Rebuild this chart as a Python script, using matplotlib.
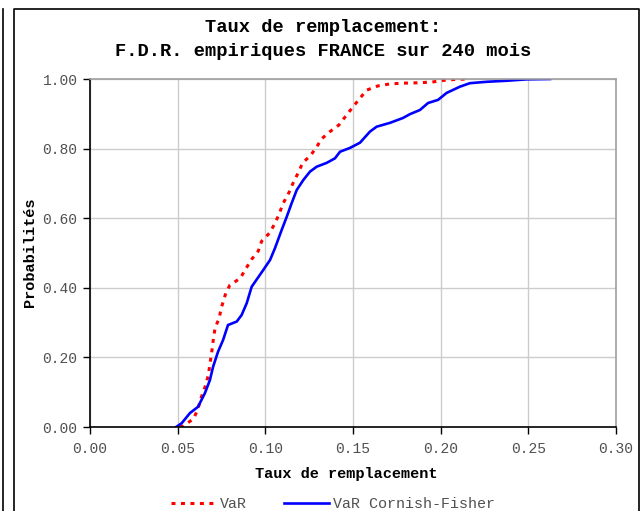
import matplotlib
matplotlib.use("Agg")
import matplotlib.pyplot as plt
from matplotlib.lines import Line2D

# F.D.R. empiriques - taux de remplacement
var_x = [0.0513, 0.0532, 0.0589, 0.0614, 0.0633, 0.0656, 0.0675, 0.0684, 0.0694,
         0.0703, 0.0713, 0.0736, 0.0751, 0.0774, 0.0798, 0.0856, 0.0888, 0.0922,
         0.0960, 0.0979, 0.1023, 0.1055, 0.1080, 0.1102, 0.1137, 0.1160, 0.1188,
         0.1213, 0.1259, 0.1293, 0.1321, 0.1369, 0.1420, 0.1464, 0.1500, 0.1540,
         0.1578, 0.1641, 0.1711, 0.1785, 0.1863, 0.1949, 0.2013, 0.2091, 0.2156]
var_y = [0.000, 0.003, 0.023, 0.049, 0.083, 0.115, 0.149, 0.181, 0.214,
         0.250, 0.284, 0.312, 0.346, 0.384, 0.408, 0.427, 0.454, 0.482,
         0.506, 0.534, 0.557, 0.585, 0.614, 0.643, 0.676, 0.703, 0.731,
         0.759, 0.781, 0.805, 0.828, 0.849, 0.868, 0.897, 0.920, 0.945,
         0.968, 0.980, 0.986, 0.988, 0.989, 0.991, 0.996, 0.999, 1.000]

cf_x = [0.0494, 0.0523, 0.0570, 0.0616, 0.0656, 0.0684, 0.0702, 0.0730, 0.0759,
        0.0787, 0.0837, 0.0865, 0.0894, 0.0922, 0.0988, 0.1027, 0.1055, 0.1093,
        0.1122, 0.1150, 0.1179, 0.1217, 0.1255, 0.1293, 0.1350, 0.1397, 0.1426,
        0.1483, 0.1540, 0.1597, 0.1635, 0.1711, 0.1785, 0.1825, 0.1882, 0.1928,
        0.1985, 0.2034, 0.2110, 0.2167, 0.2263, 0.2377, 0.2491, 0.2624]
cf_y = [0.001, 0.011, 0.040, 0.058, 0.098, 0.135, 0.173, 0.216, 0.250,
        0.293, 0.303, 0.322, 0.356, 0.403, 0.451, 0.480, 0.514, 0.566,
        0.604, 0.643, 0.681, 0.710, 0.734, 0.748, 0.759, 0.772, 0.791,
        0.802, 0.817, 0.849, 0.863, 0.874, 0.888, 0.899, 0.911, 0.931,
        0.940, 0.960, 0.978, 0.988, 0.992, 0.995, 0.999, 1.000]

x_ticks = [0.00, 0.05, 0.10, 0.15, 0.20, 0.25, 0.30]
y_ticks = [0.00, 0.20, 0.40, 0.60, 0.80, 1.00]

plt.rcParams['font.family'] = ['Liberation Mono', 'DejaVu Sans Mono']

fig = plt.figure(figsize=(6.4, 5.11), dpi=100)
ax = fig.add_axes([90/640, 1 - 427/511, (616 - 90)/640, (427 - 79)/511])

ax.plot(var_x, var_y, color='#ff0000', lw=2.2, linestyle=(0, (1.3, 1.8)),
        label='VaR')
ax.plot(cf_x, cf_y, color='#0000ff', lw=1.9, label='VaR Cornish-Fisher')

ax.set_xlim(0, 0.30)
ax.set_ylim(0, 1.0)
ax.set_xticks(x_ticks)
ax.set_yticks(y_ticks)
ax.set_xticklabels(['%.2f' % v for v in x_ticks])
ax.set_yticklabels(['%.2f' % v for v in y_ticks])
ax.tick_params(labelsize=10.5, colors='#000000', labelcolor='#505050', length=5,
               width=1, direction='out')
ax.tick_params(axis='x', pad=6)
ax.tick_params(axis='y', pad=4)
ax.grid(True, color='#cccccc', lw=1)
ax.set_axisbelow(True)

ax.spines['left'].set_color('black')
ax.spines['bottom'].set_color('black')
ax.spines['top'].set_color('#a0a0a0')
ax.spines['right'].set_color('#a0a0a0')
for s in ax.spines.values():
    s.set_linewidth(1.2)

fig.text(323/640, 1 - 27/511, 'Taux de remplacement:', ha='center',
         va='center', fontsize=13.5, fontweight='bold')
fig.text(323/640, 1 - 51/511, 'F.D.R. empiriques FRANCE sur 240 mois',
         ha='center', va='center', fontsize=13.5, fontweight='bold')
fig.text(346/640, 1 - 474/511, 'Taux de remplacement', ha='center',
         va='center', fontsize=11, fontweight='bold')
fig.text(30/640, 1 - 252/511, 'Probabilités', ha='center', va='center',
         rotation=90, fontsize=11, fontweight='bold')

leg = fig.legend(loc='center', bbox_to_anchor=(333/640, 1 - 504/511), ncol=2,
                 frameon=False, fontsize=10.8, handlelength=3, columnspacing=2.5,
                 handletextpad=0.25, borderaxespad=0)
for t in leg.get_texts():
    t.set_color('#505050')

# cadres autour du graphique
fig.add_artist(Line2D([14/640, 14/640, 639/640, 639/640],
                      [0, 1 - 9/511, 1 - 9/511, 0], color='black', lw=1.2,
                      transform=fig.transFigure))
fig.add_artist(Line2D([3/640, 3/640], [0, 1 - 9/511], color='black', lw=1.2,
                      transform=fig.transFigure))

fig.savefig('out.png', dpi=100)
